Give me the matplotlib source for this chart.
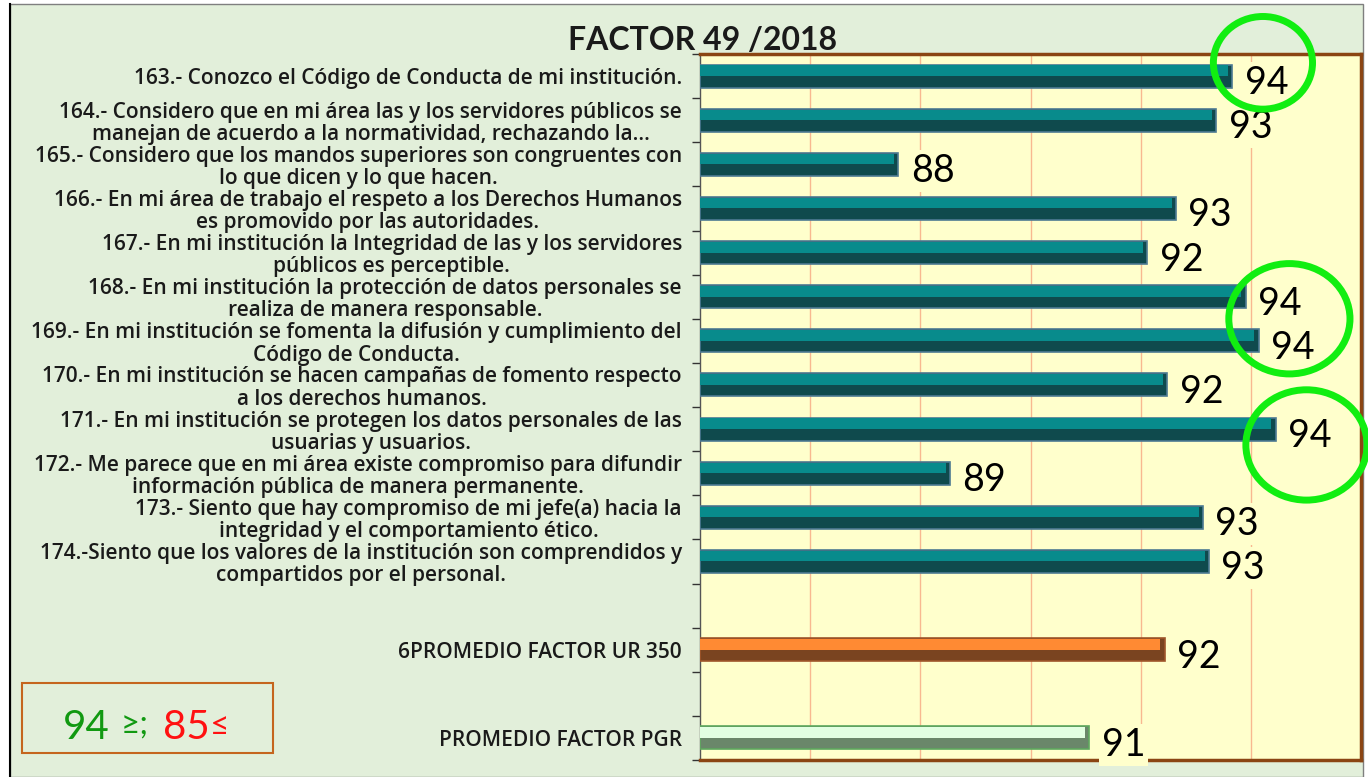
import matplotlib.pyplot as plt
import matplotlib.patches as mpatches
from matplotlib.lines import Line2D
import numpy as np

plt.rcParams['font.family'] = ['Lato', 'DejaVu Sans']

# data
labels = [
    "163.- Conozco el Código de Conducta de mi institución.",
    "164.- Considero que en mi área las y los servidores públicos se\nmanejan de acuerdo a la normatividad, rechazando la...",
    "165.- Considero que los mandos superiores son congruentes con\nlo que dicen y lo que hacen.",
    "166.- En mi área de trabajo el respeto a los Derechos Humanos\nes promovido por las autoridades.",
    "167.- En mi institución la Integridad de las y los servidores\npúblicos es perceptible.",
    "168.- En mi institución la protección de datos personales se\nrealiza de manera responsable.",
    "169.- En mi institución se fomenta la difusión y cumplimiento del\nCódigo de Conducta.",
    "170.- En mi institución se hacen campañas de fomento respecto\na los derechos humanos.",
    "171.- En mi institución se protegen los datos personales de las\nusuarias y usuarios.",
    "172.- Me parece que en mi área existe compromiso para difundir\ninformación pública de manera permanente.",
    "173.- Siento que hay compromiso de mi jefe(a) hacia la\nintegridad y el comportamiento ético.",
    "174.-Siento que los valores de la institución son comprendidos y\ncompartidos por el personal.",
    "",
    "6PROMEDIO FACTOR UR 350",
    "",
    "PROMEDIO FACTOR PGR",
]
values = [93.66, 93.37, 87.60, 92.64, 92.12, 93.91, 94.14, 92.48, 94.45, 88.54,
          93.13, 93.24, None, 92.44, None, 91.07]
kinds = ['q'] * 12 + [None, 'ur', None, 'pgr']

title = "FACTOR 49 /2018"
highlight_groups = [[0], [5, 6], [8]]

styles = {
    'q':   dict(dark='#0f4a4d', light='#088b8c', edge='#4d7a92'),
    'ur':  dict(dark='#7a4420', light='#ff8a33', edge='#a0562a'),
    'pgr': dict(dark='#6a876a', light='#e2ffe2', edge='#5ea85e'),
}

W, H = 1368, 777
fig = plt.figure(figsize=(W / 100, H / 100), dpi=100)
fig.patch.set_facecolor('white')

# green panel behind everything
panel = mpatches.Rectangle((10 / W, 0), (1363 - 10) / W, 1 - 4 / H, transform=fig.transFigure,
                           facecolor='#e2efda', edgecolor='#7f7f7f', lw=1, zorder=-10)
fig.patches.append(panel)
fig.lines.append(Line2D([10 / W, 10 / W], [0, 1 - 4 / H], transform=fig.transFigure,
                        color='black', lw=1.5))

ax = fig.add_axes([700 / W, 1 - 760 / H, (1361 - 700) / W, (760 - 54) / H])
ax.set_facecolor('#ffffcc')

ypos = np.arange(len(labels))
for i, (v, k) in enumerate(zip(values, kinds)):
    if v is None:
        continue
    st = styles[k]
    ax.barh(i, v - 84, left=84, height=0.52, color=st['dark'], edgecolor=st['edge'],
            linewidth=1.2, zorder=3)
    ax.barh(i - 0.12, v - 84 - 0.08, left=84, height=0.24, color=st['light'],
            linewidth=0, zorder=4)
    ax.annotate("%.0f" % v, xy=(v, i), xytext=(9, -5), textcoords='offset points',
                ha='left', va='center', fontsize=27, color='black', zorder=6,
                bbox=dict(boxstyle='square,pad=0.08', facecolor='#ffffcc', edgecolor='none'))

# green highlight rings
for grp in highlight_groups:
    vmax = max(values[j] for j in grp)
    yc = np.mean(grp)
    if len(grp) == 1:
        yc += -0.3 if grp[0] == 0 else 0.36
        w, h = (1.8, 2.1) if grp[0] == 0 else (2.2, 2.5)
    else:
        w, h = 2.2, 2.5
    ax.add_patch(mpatches.Ellipse((vmax + 0.56, yc), w, h, facecolor='none',
                                  edgecolor='#11ee11', lw=5, zorder=8, clip_on=False))

ax.set_xlim(84, 96)
ax.set_ylim(len(labels) - 0.5, -0.5)
ax.set_xticks(np.arange(86, 96, 2))
ax.tick_params(axis='x', length=0, labelbottom=False)
ax.grid(axis='x', color='#f8b890', lw=1, zorder=0)
ax.set_axisbelow(True)

ax.set_yticks(ypos)
ax.set_yticklabels(labels, fontsize=15, color='#1a1a1a', fontweight='semibold',
                   family=['Open Sans', 'DejaVu Sans'])
ax.set_yticks(np.arange(-0.5, len(labels)), minor=True)
ax.tick_params(axis='y', which='major', length=0, pad=13)
ax.tick_params(axis='y', which='minor', length=6, width=1, color='#333333', direction='out')
for t in ax.get_yticklabels():
    t.set_multialignment('center')
    t.set_linespacing(1.08)

for s in ['top', 'right', 'bottom']:
    ax.spines[s].set_color('#8b4513')
    ax.spines[s].set_linewidth(2.5)
ax.spines['left'].set_color('#555555')
ax.spines['left'].set_linewidth(1)

fig.text(703 / W, 1 - 50 / H, title, ha='center', va='baseline', fontsize=23,
         fontweight='bold', color='#1a1a1a')

# legend box
fig.patches.append(mpatches.Rectangle((22 / W, 1 - 753 / H), 251 / W, 70 / H,
                                      transform=fig.transFigure, facecolor='none',
                                      edgecolor='#c5651e', lw=1.5))
fig.text(63 / W, 1 - 739 / H, "94", color='#119911', fontsize=29, va='baseline')
fig.text(121 / W, 1 - 735 / H, "≥;", color='#119911', fontsize=24, va='baseline')
fig.text(163 / W, 1 - 739 / H, "85", color='#ff1111', fontsize=29, va='baseline')
fig.text(210 / W, 1 - 735 / H, "≤", color='#ff1111', fontsize=24, va='baseline')

fig.savefig('out.png', dpi=100)
